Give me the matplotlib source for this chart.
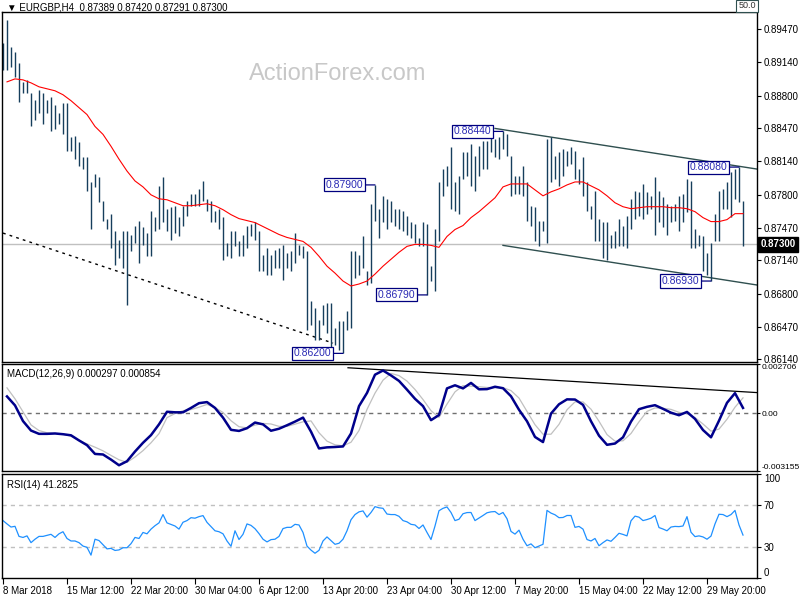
import matplotlib.pyplot as plt
import matplotlib.transforms as mtransforms
import numpy as np

plt.rcParams['font.family'] = ['Liberation Sans', 'DejaVu Sans']

## DADOS - cada barra aqui = 2 barras H4 (8 horas)
highs = [
    0.8933, 0.8956, 0.8929, 0.8924, 0.8913, 0.8894, 0.8896, 0.8883, 0.8876, 0.8886,
    0.8883, 0.8876, 0.8879, 0.8871, 0.8863, 0.8873, 0.8873, 0.8838, 0.8839, 0.8833,
    0.8818, 0.8818, 0.8793, 0.8801, 0.8798, 0.8774, 0.8756, 0.8761, 0.8744, 0.8734,
    0.8743, 0.8743, 0.8739, 0.8749, 0.8754, 0.8748, 0.8741, 0.8764, 0.8758, 0.8789,
    0.8798, 0.8766, 0.8768, 0.8769, 0.8758, 0.8769, 0.8774, 0.8781, 0.8781, 0.8786,
    0.8794, 0.8776, 0.8774, 0.8764, 0.8766, 0.8758, 0.8731, 0.8744, 0.8744, 0.8733,
    0.8739, 0.8749, 0.8751,
    0.8753, 0.8744, 0.8719, 0.8726, 0.8719, 0.8724, 0.8726, 0.8729, 0.8721, 0.8723,
    0.8741, 0.8729, 0.8728, 0.8723, 0.8673, 0.8666, 0.8654, 0.8669, 0.8671, 0.8671,
    0.8646, 0.8653, 0.8653, 0.8663, 0.8723, 0.8723, 0.8719, 0.8738, 0.8703, 0.8771,
    0.8790, 0.8766, 0.8779, 0.8776, 0.8774, 0.8766, 0.8766, 0.8764, 0.8759, 0.8753,
    0.8751, 0.8736, 0.8753, 0.8751, 0.8708, 0.8746, 0.8793, 0.8806, 0.8809, 0.8828,
    0.8793, 0.8799, 0.8823, 0.8823, 0.8831, 0.8819, 0.8829, 0.8834, 0.8834, 0.8841,
    0.8836, 0.8838, 0.8844,
    0.8841, 0.8819, 0.8799, 0.8799, 0.8809, 0.8793, 0.8769, 0.8768, 0.8754, 0.8754,
    0.8836, 0.8838, 0.8819, 0.8823, 0.8826, 0.8824, 0.8828, 0.8824, 0.8806, 0.8818,
    0.8793, 0.8769, 0.8784, 0.8756, 0.8753, 0.8753, 0.8739, 0.8743, 0.8756, 0.8749,
    0.8759, 0.8776, 0.8784, 0.8783, 0.8791, 0.8783, 0.8779, 0.8798, 0.8784, 0.8778,
    0.8771, 0.8769, 0.8771, 0.8779, 0.8781, 0.8796, 0.8794, 0.8746, 0.8739, 0.8738,
    0.8721, 0.8731, 0.8761, 0.8784, 0.8786, 0.8793, 0.8803, 0.8806, 0.8808, 0.8774,
]
lows = [
    0.8906, 0.8906, 0.8909, 0.8899, 0.8874, 0.8883, 0.8883, 0.8849, 0.8856, 0.8863,
    0.8851, 0.8863, 0.8844, 0.8846, 0.8851, 0.8841, 0.8824, 0.8824, 0.8816, 0.8809,
    0.8806, 0.8784, 0.8746, 0.8788, 0.8773, 0.8754, 0.8746, 0.8726, 0.8709, 0.8716,
    0.8706, 0.8669, 0.8723, 0.8731, 0.8711, 0.8729, 0.8718, 0.8718, 0.8744, 0.8746,
    0.8753, 0.8743, 0.8734, 0.8741, 0.8738, 0.8749, 0.8759, 0.8769, 0.8769, 0.8769,
    0.8774, 0.8764, 0.8753, 0.8753, 0.8746, 0.8714, 0.8718, 0.8716, 0.8728, 0.8718,
    0.8718, 0.8726, 0.8738,
    0.8734, 0.8703, 0.8703, 0.8699, 0.8699, 0.8706, 0.8706, 0.8694, 0.8706, 0.8703,
    0.8711, 0.8719, 0.8716, 0.8644, 0.8649, 0.8633, 0.8633, 0.8649, 0.8641, 0.8623,
    0.8628, 0.8623, 0.8620, 0.8644, 0.8646, 0.8696, 0.8699, 0.8706, 0.8689, 0.8691,
    0.8754, 0.8736, 0.8753, 0.8746, 0.8753, 0.8749, 0.8746, 0.8744, 0.8739, 0.8736,
    0.8731, 0.8728, 0.8728, 0.8679, 0.8693, 0.8683, 0.8733, 0.8779, 0.8789, 0.8766,
    0.8764, 0.8761, 0.8796, 0.8799, 0.8789, 0.8784, 0.8799, 0.8806, 0.8806, 0.8823,
    0.8818, 0.8816, 0.8826,
    0.8819, 0.8779, 0.8781, 0.8781, 0.8779, 0.8754, 0.8749, 0.8733, 0.8728, 0.8743,
    0.8731, 0.8793, 0.8796, 0.8789, 0.8799, 0.8809, 0.8811, 0.8796, 0.8791, 0.8779,
    0.8764, 0.8756, 0.8733, 0.8733, 0.8716, 0.8714, 0.8726, 0.8726, 0.8728, 0.8728,
    0.8726, 0.8746, 0.8756, 0.8759, 0.8756, 0.8761, 0.8766, 0.8739, 0.8753, 0.8748,
    0.8739, 0.8753, 0.8754, 0.8744, 0.8753, 0.8763, 0.8726, 0.8726, 0.8728, 0.8703,
    0.8699, 0.8693, 0.8733, 0.8733, 0.8766, 0.8766, 0.8758, 0.8776, 0.8773, 0.8728,
]

# media movel (vermelha), MACD e sinal: um valor a cada 2 barras
ma_vals = [
    0.8894, 0.8897, 0.8896, 0.8893, 0.8889, 0.8887, 0.8885, 0.8881, 0.8875, 0.8868,
    0.8861, 0.8849, 0.8841, 0.8829, 0.8816, 0.8804, 0.8794, 0.8788, 0.8780, 0.8776,
    0.8775, 0.8772, 0.8769, 0.8769, 0.8770, 0.8771, 0.8769, 0.8765, 0.8760, 0.8756,
    0.8754, 0.8752, 0.8748, 0.8744, 0.8740, 0.8737, 0.8735, 0.8733, 0.8727, 0.8718,
    0.8708, 0.8701, 0.8693, 0.8688, 0.8690, 0.8693, 0.8700, 0.8708, 0.8715, 0.8722,
    0.8728, 0.8730, 0.8730, 0.8729, 0.8727, 0.8738, 0.8745, 0.8749, 0.8757, 0.8763,
    0.8770, 0.8777, 0.8788, 0.8791, 0.8791, 0.8791, 0.8785, 0.8779, 0.8783, 0.8786,
    0.8790, 0.8793, 0.8793, 0.8789, 0.8785, 0.8779, 0.8772, 0.8768, 0.8766, 0.8767,
    0.8768, 0.8768, 0.8768, 0.8767, 0.8767, 0.8766, 0.8763, 0.8757, 0.8753, 0.8753,
    0.8755, 0.8761, 0.8761,
]
macd_vals = [
    0.00093, 0.00044, -0.00042, -0.00094, -0.00112, -0.00112, -0.00110, -0.00114, -0.00120, -0.00148,
    -0.00174, -0.00222, -0.00225, -0.00253, -0.00284, -0.00262, -0.00209, -0.00161, -0.00119, -0.00060,
    0.00009, 0.00006, 0.00006, 0.00030, 0.00056, 0.00062, 0.00030, -0.00023, -0.00090, -0.00096,
    -0.00081, -0.00050, -0.00060, -0.00095, -0.00084, -0.00065, -0.00045, -0.00023, -0.00100, -0.00192,
    -0.00186, -0.00184, -0.00181, -0.00110, 0.00040, 0.00112, 0.00212, 0.00235, 0.00208, 0.00178,
    0.00130, 0.00080, 0.00040, -0.00037, -0.00009, 0.00137, 0.00154, 0.00137, 0.00167, 0.00132,
    0.00133, 0.00146, 0.00138, 0.00094, 0.00020, -0.00043, -0.00129, -0.00157, -0.00001, 0.00050,
    0.00077, 0.00076, 0.00047, -0.00043, -0.00122, -0.00172, -0.00165, -0.00131, -0.00045, 0.00023,
    0.00036, 0.00045, 0.00025, 0.00004, -0.00010, 0.00008, -0.00030, -0.00091, -0.00131, -0.00040,
    0.00058, 0.00111, 0.00030,
]
signal_vals = [
    0.00140, 0.00080, 0.00009, -0.00063, -0.00094, -0.00106, -0.00110, -0.00113, -0.00125, -0.00148,
    -0.00167, -0.00185, -0.00205, -0.00230, -0.00254, -0.00268, -0.00239, -0.00204, -0.00161, -0.00111,
    -0.00023, -0.00001, 0.00015, 0.00021, 0.00034, 0.00049, 0.00032, 0.00005, -0.00040, -0.00073,
    -0.00079, -0.00064, -0.00055, -0.00058, -0.00071, -0.00071, -0.00059, -0.00046, -0.00041, -0.00106,
    -0.00152, -0.00172, -0.00178, -0.00158, -0.00094, 0.00022, 0.00111, 0.00182, 0.00219, 0.00207,
    0.00177, 0.00131, 0.00076, 0.00015, -0.00022, 0.00051, 0.00118, 0.00152, 0.00149, 0.00146,
    0.00142, 0.00141, 0.00141, 0.00125, 0.00084, 0.00011, -0.00062, -0.00114, -0.00114, -0.00060,
    0.00020, 0.00063, 0.00063, 0.00023, -0.00043, -0.00116, -0.00152, -0.00150, -0.00110, -0.00046,
    0.00011, 0.00030, 0.00028, 0.00022, 0.00006, -0.00002, -0.00023, -0.00058, -0.00097, -0.00086,
    -0.00032, 0.00034, 0.00085,
]
# RSI(14): um valor por barra
rsi_vals = [
    55.2, 52, 49, 49.7, 40, 39, 40.5, 34, 37.3, 40,
    40, 41, 42, 39, 42.5, 44.5, 38, 35.6, 35.6, 34,
    30.7, 29.5, 22, 37.3, 36, 32, 28, 28.5, 26.5, 27,
    29.1, 29.1, 33, 39, 38, 43.8, 42.5, 47, 50.3, 53,
    61, 53, 51.5, 50, 47, 53.6, 55.2, 58, 57.5, 59,
    60, 53.5, 49.5, 45.4, 44.5, 42.5, 35.6, 30.5, 45.4, 37,
    42, 52, 50.6, 47.4, 42.7, 37.3, 34.7, 36.9, 37.3, 40,
    47.5, 48.7, 48.7, 51.6, 51, 43.8, 30.7, 26.8, 23.8, 26.6,
    35.6, 39.5, 36, 32.4, 33.4, 37.3, 45.4, 56, 61, 63.6,
    64.5, 58.5, 63, 68.6, 67.5, 67, 61.5, 61, 61, 59.3,
    55.2, 54, 51.6, 51, 47.6, 51, 43.8, 37, 50, 64.7,
    67, 68.3, 63, 55.2, 56.5, 61.8, 62.9, 63, 55.2, 57.6,
    60.1, 62.7, 63.6, 63.9, 61, 63, 57, 44.8, 42.2, 46,
    37.3, 31, 32.8, 29.1, 30.7, 32.4, 65, 62.4, 60.8, 58,
    58.2, 60.1, 60.1, 48.7, 49.6, 47, 37, 35.6, 38, 31,
    34, 36.6, 35.3, 39, 43, 41.9, 40.5, 55, 59.5, 58.5,
    55.2, 56.2, 57.5, 60.1, 48.5, 47.1, 45.4, 49, 49.6, 49.4,
    50, 59, 44, 39.8, 40.5, 39.5, 37.3, 40.3, 52, 61.3,
    61, 59, 61, 65, 51, 41.28,
]

date_labels = ["8 Mar 2018", "15 Mar 12:00", "22 Mar 20:00", "30 Mar 04:00",
               "6 Apr 12:00", "13 Apr 20:00", "23 Apr 04:00", "30 Apr 12:00",
               "7 May 20:00", "15 May 04:00", "22 May 12:00", "29 May 20:00"]
price_ticks = [0.89470, 0.89140, 0.88800, 0.88470, 0.88140, 0.87800,
               0.87470, 0.87140, 0.86800, 0.86470, 0.86140]
last_price = 0.87300

# topos / fundos marcados (barra, preco)
pivot_bars = [85, 93, 106, 125, 177, 184]
pivot_prices = [0.86200, 0.87900, 0.86790, 0.88440, 0.86930, 0.88080]

# linhas de tendencia (barra, valor)
upper_channel = [(123, 0.8847), (188.5, 0.8806)]
lower_channel = [(125, 0.8729), (188.5, 0.8689)]
support_line = [(0, 0.87414), (82.5, 0.86304)]
macd_trend = [(86.25, 0.00250), (188.5, 0.00114)]

header = "\u25bc EURGBP,H4  0.87389 0.87420 0.87291 0.87300"
macd_title = "MACD(12,26,9) 0.000297 0.000854"
rsi_title = "RSI(14) 41.2825"

bar_color = '#163e5c'
navy = '#00007f'


def box(left, top, right, bottom):
    # pixel box -> figure fraction (800x600)
    return [left / 800, 1 - bottom / 600, (right - left) / 800, (bottom - top) / 600]


fig = plt.figure(figsize=(8, 6), dpi=100)
ax_p = fig.add_axes(box(2, 12, 757, 362))
ax_m = fig.add_axes(box(2, 364, 757, 471))
ax_r = fig.add_axes(box(2, 474, 757, 578))

x = np.arange(len(highs))
xs = 1 + 2 * np.arange(len(ma_vals))

for ax in (ax_p, ax_m, ax_r):
    ax.set_xlim(-0.25, 188.5)
    for s in ax.spines.values():
        s.set_color('black')
        s.set_linewidth(1.0)
    ax.yaxis.tick_right()
    ax.tick_params(axis='y', direction='out', length=3, width=0.8,
                   labelsize=7, pad=2, colors='black')
    ax.tick_params(axis='x', bottom=False, labelbottom=False)

########################################
### PRECO
ax_p.set_ylim(0.86113, 0.89645)
ax_p.axhline(last_price, color='#c0c0c0', lw=1, zorder=0)
ax_p.vlines(x, lows, highs, color=bar_color, lw=1.0, zorder=2)
ax_p.plot(xs, ma_vals, color='#ff0000', lw=0.8, zorder=3)

for line in (upper_channel, lower_channel):
    (x0, y0), (x1, y1) = line
    ax_p.plot([x0, x1], [y0, y1], color='#2f4f4f', lw=1.0, zorder=1)
(x0, y0), (x1, y1) = support_line
ax_p.plot([x0, x1], [y0, y1], color='black', lw=1.0, ls=(0, (2, 3)), zorder=1)

for b, p in zip(pivot_bars, pivot_prices):
    ax_p.annotate(f"{p:.5f}", xy=(b, p), xytext=(-8.5, 0), textcoords='offset points',
                  ha='right', va='center', fontsize=7.5, color='#2a2ab4',
                  bbox=dict(boxstyle='square,pad=0.15', fc='white', ec=navy, lw=0.9),
                  arrowprops=dict(arrowstyle='-', color=navy, lw=0.9, shrinkA=0, shrinkB=0),
                  zorder=5)

ax_p.set_yticks(price_ticks, labels=[f"{t:.5f}" for t in price_ticks])
ax_p.text(0.445, 0.823, 'ActionForex.com', transform=ax_p.transAxes, fontsize=17,
          color='#c8c8c8', ha='center', va='center', zorder=0)

trans = mtransforms.blended_transform_factory(ax_p.transAxes, ax_p.transData)
ax_p.text(1.005, last_price, f"{last_price:.5f}", transform=trans, fontsize=7,
          color='white', fontweight='bold', ha='left', va='center',
          bbox=dict(boxstyle='square,pad=0.25', fc='black', ec='black'))

fig.text(7 / 800, 1 - 8 / 600, header, fontsize=7, va='center', ha='left')
fig.text(747 / 800, 1 - 6 / 600, '50.0', fontsize=6.5, va='center', ha='center',
         color='#333333',
         bbox=dict(boxstyle='square,pad=0.2', fc='white', ec='#2f4f4f', lw=0.8))

########################################
### MACD
ax_m.set_ylim(-0.003155, 0.002706)
ax_m.axhline(0, color='#707070', lw=1, ls=(0, (3, 3)), zorder=0)
ax_m.plot(xs, signal_vals, color='#c0c0c0', lw=0.9, zorder=2)
ax_m.plot(xs, macd_vals, color='#00008b', lw=1.8, zorder=3)
(x0, y0), (x1, y1) = macd_trend
ax_m.plot([x0, x1], [y0, y1], color='black', lw=0.9, zorder=1)
ax_m.set_yticks([0.002706, 0.0, -0.003155], labels=['0.002706', '0.00', '-0.003155'])
ax_m.tick_params(axis='y', length=2, pad=1, labelsize=6)
mt = ax_m.yaxis.get_major_ticks()
mt[0].label2.set_va('top')
mt[2].label2.set_va('bottom')
ax_m.text(0.006, 0.95, macd_title, transform=ax_m.transAxes, fontsize=7, va='top')

########################################
### RSI
ax_r.set_ylim(0, 100)
for lvl in (70, 30):
    ax_r.axhline(lvl, color='#c0c0c0', lw=1, ls=(0, (3, 3)), zorder=0)
ax_r.plot(x, rsi_vals, color='#1e90ff', lw=0.9)
ax_r.set_yticks([100, 70, 30, 0], labels=['100', '70', '30', '0'])
rt = ax_r.yaxis.get_major_ticks()
rt[0].label2.set_va('top')
rt[3].label2.set_va('bottom')
ax_r.text(0.006, 0.94, rsi_title, transform=ax_r.transAxes, fontsize=7, va='top')

ax_r.tick_params(axis='x', bottom=True, labelbottom=True, direction='out',
                 length=4, width=0.8, labelsize=7, pad=1.5)
ax_r.set_xticks(16 * np.arange(len(date_labels)), labels=date_labels)
for lbl in ax_r.get_xticklabels():
    lbl.set_ha('left')

fig.savefig('out.png', dpi=100, facecolor='white')
